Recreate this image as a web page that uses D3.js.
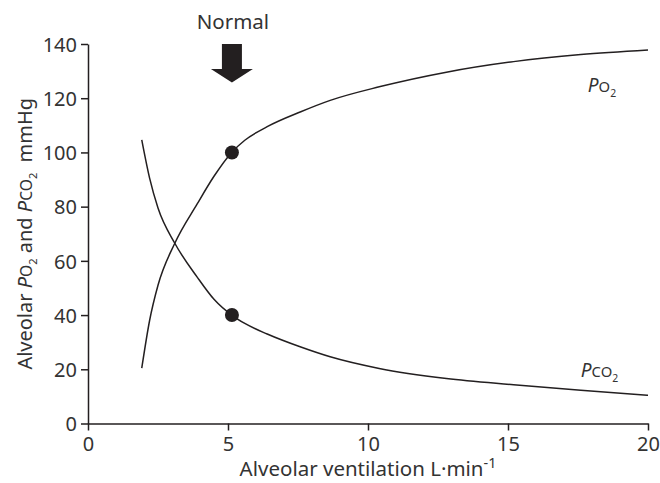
<!DOCTYPE html>
<html>
<head>
<meta charset="utf-8">
<script src="https://cdn.jsdelivr.net/npm/d3@7"></script>
<style>
  body { margin: 0; background: #fff; }
  svg text { font-family: "Noto Sans", Roboto, sans-serif; fill: #333; }
</style>
</head>
<body>
<svg id="chart"></svg>
<script>
'use strict';

const WIDTH = 660;
const HEIGHT = 483;
const margin = { top: 44, right: 12, bottom: 59.5, left: 88 };

// values
const ventilation = [1.92, 2.2, 2.5, 3.1, 3.9, 4.5, 5.13, 5.6, 6.4, 7.6, 8.65, 10.4, 12.8, 15.2, 17.6, 20];
const po2 = [20.4, 38, 51, 66.5, 81, 91.2, 100, 104.5, 109.5, 115, 119.2, 124.2, 129.6, 133.5, 136.1, 137.8];
const pco2 = [104.6, 90.5, 79.5, 66.5, 54, 45.8, 40, 36.9, 33, 28.2, 24.6, 20.3, 16.6, 14.3, 12.25, 10.4];
const normalX = 5.14;
const normalPoints = [100, 40];
const xTicks = [0, 5, 10, 15, 20];
const yTicks = [0, 20, 40, 60, 80, 100, 120, 140];

const ink = "#231f20";

const svg = d3.select("#chart").attr("width", WIDTH).attr("height", HEIGHT);

const x = d3.scaleLinear().domain([0, 20]).range([margin.left, WIDTH - margin.right]);
const y = d3.scaleLinear().domain([0, 140]).range([HEIGHT - margin.bottom, margin.top]);

// axes
const axisX = svg.append("g")
   .attr("transform", `translate(0,${y(0)})`)
   .call(d3.axisBottom(x).tickValues(xTicks).tickSize(7).tickSizeOuter(0).tickPadding(6));

const axisY = svg.append("g")
   .attr("transform", `translate(${x(0)},0)`)
   .call(d3.axisLeft(y).tickValues(yTicks).tickSize(7).tickSizeOuter(0).tickPadding(4));

[axisX, axisY].forEach(a => {
   a.selectAll("path, line").attr("stroke", ink).attr("stroke-width", 1.5);
   a.selectAll("text").attr("font-size", 20).attr("font-family", null).attr("fill", null);
});
axisY.selectAll("text").attr("dy", "0.36em");

// curves
const line = d3.line()
   .x(d => x(d[0]))
   .y(d => y(d[1]))
   .curve(d3.curveMonotoneX);

[po2, pco2].forEach(series => {
   svg.append("path")
      .datum(ventilation.map((v, i) => [v, series[i]]))
      .attr("fill", "none")
      .attr("stroke", ink)
      .attr("stroke-width", 1.5)
      .attr("d", line);
});

// normal points
svg.append("g").selectAll("circle")
   .data(normalPoints)
   .enter()
   .append("circle")
   .attr("cx", x(normalX))
   .attr("cy", d => y(d))
   .attr("r", 7)
   .attr("fill", ink);

// arrow + label
const ax = x(normalX);
const at = y(140);
svg.append("path")
   .attr("d", `M${ax - 10},${at} L${ax + 10},${at} L${ax + 10},${at + 25} L${ax + 21},${at + 25}
               L${ax},${at + 38.5} L${ax - 21},${at + 25} L${ax - 10},${at + 25} Z`)
   .attr("fill", ink);

svg.append("text")
   .attr("x", ax + 1)
   .attr("y", at - 15)
   .attr("text-anchor", "middle")
   .attr("font-size", 20.5)
   .text("Normal");

// P with small-cap gas and subscript 2
function gasLabel(sel, gas) {
   sel.append("tspan").attr("font-style", "italic").text("P");
   sel.append("tspan").attr("font-size", "0.78em").text(gas);
   sel.append("tspan").attr("font-size", "0.55em").attr("dy", "0.45em").text("2");
}

const po2Label = svg.append("text").attr("x", x(17.85)).attr("y", y(122.3)).attr("font-size", 19);
gasLabel(po2Label, "O");
const pco2Label = svg.append("text").attr("x", x(17.6)).attr("y", y(17.2)).attr("font-size", 19);
gasLabel(pco2Label, "CO");

// axis titles
svg.append("text")
   .attr("x", (x(0) + x(20)) / 2)
   .attr("y", 476)
   .attr("text-anchor", "middle")
   .attr("font-size", 20.5)
   .call(t => {
      t.append("tspan").text("Alveolar ventilation L\u00b7min");
      t.append("tspan").attr("font-size", "0.7em").attr("dy", "-0.55em").text("-1");
   });

const yTitle = svg.append("text")
   .attr("transform", `translate(32,${(y(0) + y(140)) / 2}) rotate(-90)`)
   .attr("text-anchor", "middle")
   .attr("font-size", 20);
yTitle.append("tspan").text("Alveolar ");
yTitle.append("tspan").attr("font-style", "italic").text("P");
yTitle.append("tspan").attr("font-size", "0.78em").text("O");
yTitle.append("tspan").attr("font-size", "0.55em").attr("dy", "0.45em").text("2");
yTitle.append("tspan").attr("dy", "-0.25em").text(" and ");
yTitle.append("tspan").attr("font-style", "italic").text("P");
yTitle.append("tspan").attr("font-size", "0.78em").text("CO");
yTitle.append("tspan").attr("font-size", "0.55em").attr("dy", "0.45em").text("2");
yTitle.append("tspan").attr("dy", "-0.25em").text("\u00a0\u00a0mmHg");
</script>
</body>
</html>
